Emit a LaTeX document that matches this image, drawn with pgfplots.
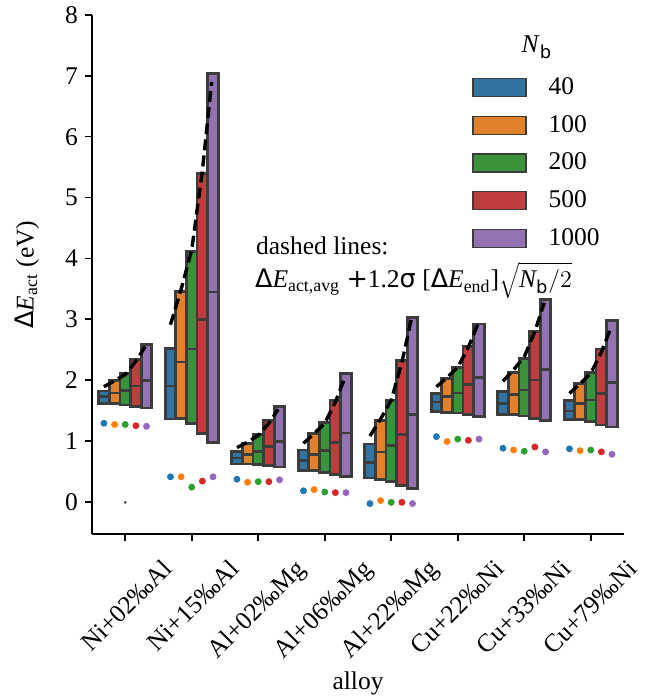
\documentclass[border=0pt]{standalone}
\usepackage{fontspec}
\setmainfont{Liberation Serif}
\setsansfont{DejaVu Sans}
\usepackage{pgfplots}
\pgfplotsset{compat=1.18}
\usepgfplotslibrary{statistics}

\definecolor{b0}{HTML}{3274A1}
\definecolor{b1}{HTML}{E1812C}
\definecolor{b2}{HTML}{3A923A}
\definecolor{b3}{HTML}{C03D3E}
\definecolor{b4}{HTML}{9372B2}
\definecolor{t0}{HTML}{1F77B4}
\definecolor{t1}{HTML}{FF7F0E}
\definecolor{t2}{HTML}{2CA02C}
\definecolor{t3}{HTML}{D62728}
\definecolor{t4}{HTML}{9467BD}
\definecolor{edge}{HTML}{3C3C3C}

% position, low, median, high, colour
\newcommand{\bx}[5]{%
  \addplot[forget plot, boxplot prepared={draw direction=y, draw position=#1, lower whisker=#2, lower quartile=#2,
    median=#3, upper quartile=#4, upper whisker=#4, box extend=0.16, whisker extend=0,
    every box/.style={draw=edge, fill=#5, line width=1.4pt},
    every median/.style={draw=edge, line width=1.3pt},
    every whisker/.style={draw=edge, line width=1.4pt}},
    fill=#5, draw=edge, line width=1.4pt] coordinates {};}

\begin{document}
\begin{tikzpicture}[font=\fontsize{12.75pt}{15pt}\selectfont]
\useasboundingbox (-46pt,-83pt) rectangle (282pt,267pt);
\begin{axis}[
  at={(0,0)}, anchor=south west, scale only axis,
  width=266pt, height=259.5pt,
  xmin=-0.5, xmax=7.5, ymin=-0.53, ymax=8,
  axis lines=left, axis line style={-, line width=1pt},
  clip=false,
  xtick={0,1,2,3,4,5,6,7},
  xticklabels={Ni+02‰Al, Ni+15‰Al, Al+02‰Mg, Al+06‰Mg, Al+22‰Mg, Cu+22‰Ni, Cu+33‰Ni, Cu+79‰Ni},
  ytick={0,1,2,3,4,5,6,7,8},
  tick align=outside, major tick length=3.5pt,
  tick style={black, line width=0.8pt},
  /pgf/number format/assume math mode=true,
  xticklabel style={anchor=north east, xshift=18pt, yshift=-3.5pt, rotate=45},
  every axis y label/.style={at={(axis description cs:-0.1222,0.5)}, rotate=90, anchor=center},
  every axis x label/.style={at={(axis description cs:0.5,-0.288)}, anchor=center},
  ylabel={{\sffamily Δ}\textit{E}\textsubscript{act} (eV)},
  xlabel={alloy},
  legend style={at={(axis cs:5.214,6.98)}, anchor=north west, draw=none, fill=none,
    inner sep=0pt, row sep=8.9pt, column sep=0pt, nodes={inner sep=0pt},
    /tikz/every odd column/.append style={column sep=11pt}},
  legend cell align=left,
  legend image code/.code={\draw[#1, line width=0.6pt] (0pt,-4.5pt) rectangle (26.5pt,4.5pt);},
]
% Ni+02Al
\bx{-0.32}{1.62}{1.73}{1.82}{b0}
\bx{-0.16}{1.61}{1.79}{1.99}{b1}
\bx{0}{1.59}{1.83}{2.11}{b2}
\bx{0.16}{1.57}{1.90}{2.34}{b3}
\bx{0.32}{1.54}{1.99}{2.59}{b4}
% Ni+15Al
\bx{0.68}{1.36}{1.90}{2.52}{b0}
\bx{0.84}{1.37}{2.30}{3.45}{b1}
\bx{1}{1.28}{2.51}{4.11}{b2}
\bx{1.16}{1.12}{3.00}{5.40}{b3}
\bx{1.32}{0.97}{3.45}{7.04}{b4}
% Al+02Mg
\bx{1.68}{0.62}{0.72}{0.82}{b0}
\bx{1.84}{0.62}{0.78}{0.96}{b1}
\bx{2}{0.61}{0.83}{1.10}{b2}
\bx{2.16}{0.59}{0.91}{1.33}{b3}
\bx{2.32}{0.57}{0.99}{1.57}{b4}
% Al+06Mg
\bx{2.68}{0.51}{0.68}{0.85}{b0}
\bx{2.84}{0.51}{0.78}{1.12}{b1}
\bx{3}{0.48}{0.84}{1.30}{b2}
\bx{3.16}{0.45}{0.97}{1.67}{b3}
\bx{3.32}{0.42}{1.13}{2.11}{b4}
% Al+22Mg
\bx{3.68}{0.39}{0.65}{0.95}{b0}
\bx{3.84}{0.37}{0.82}{1.33}{b1}
\bx{4}{0.33}{0.92}{1.67}{b2}
\bx{4.16}{0.27}{1.11}{2.32}{b3}
\bx{4.32}{0.22}{1.43}{3.03}{b4}
% Cu+22Ni
\bx{4.68}{1.48}{1.64}{1.78}{b0}
\bx{4.84}{1.47}{1.73}{2.02}{b1}
\bx{5}{1.46}{1.79}{2.21}{b2}
\bx{5.16}{1.43}{1.93}{2.55}{b3}
\bx{5.32}{1.40}{2.04}{2.92}{b4}
% Cu+33Ni
\bx{5.68}{1.44}{1.61}{1.81}{b0}
\bx{5.84}{1.43}{1.76}{2.12}{b1}
\bx{6}{1.41}{1.84}{2.36}{b2}
\bx{6.16}{1.37}{2.00}{2.80}{b3}
\bx{6.32}{1.33}{2.17}{3.33}{b4}
% Cu+79Ni
\bx{6.68}{1.35}{1.49}{1.66}{b0}
\bx{6.84}{1.35}{1.61}{1.95}{b1}
\bx{7}{1.32}{1.67}{2.12}{b2}
\bx{7.16}{1.26}{1.78}{2.51}{b3}
\bx{7.32}{1.23}{1.96}{2.98}{b4}

% dashed lines
\pgfplotsset{dashline/.style={forget plot, black, line width=1.7pt, dash pattern=on 5.5pt off 2.6pt}}
\addplot[dashline] coordinates {(-0.32,1.89) (-0.16,1.99) (0,2.09) (0.16,2.31) (0.30,2.55)};
\addplot[dashline] coordinates {(0.68,2.91) (0.84,3.49) (1,4.14) (1.16,5.44) (1.30,6.90)};
\addplot[dashline] coordinates {(1.68,0.89) (1.84,0.98) (2,1.09) (2.16,1.29) (2.30,1.52)};
\addplot[dashline] coordinates {(2.68,0.96) (2.84,1.12) (3,1.29) (3.16,1.64) (3.30,2.03)};
\addplot[dashline] coordinates {(3.68,1.08) (3.84,1.36) (4,1.67) (4.16,2.29) (4.30,2.99)};
\addplot[dashline] coordinates {(4.68,1.89) (4.84,2.04) (5,2.21) (5.16,2.54) (5.30,2.91)};
\addplot[dashline] coordinates {(5.68,1.98) (5.84,2.17) (6,2.38) (6.16,2.80) (6.30,3.27)};
\addplot[dashline] coordinates {(6.68,1.78) (6.84,1.94) (7,2.11) (7.16,2.46) (7.30,2.85)};

% dots
\pgfplotsset{dotst/.style={forget plot, only marks, mark=*, mark size=1.5pt}}
\addplot[dotst, t0, mark options={fill=t0, draw=t0}] coordinates {(-0.32,1.29) (0.68,0.41) (1.68,0.37) (2.68,0.18) (3.68,-0.03) (4.68,1.07) (5.68,0.88) (6.68,0.87)};
\addplot[dotst, t1, mark options={fill=t1, draw=t1}] coordinates {(-0.16,1.27) (0.84,0.41) (1.84,0.32) (2.84,0.20) (3.84,0.02) (4.84,0.99) (5.84,0.85) (6.84,0.84)};
\addplot[dotst, t2, mark options={fill=t2, draw=t2}] coordinates {(0,1.27) (1,0.24) (2,0.33) (3,0.16) (4,-0.01) (5,1.03) (6,0.83) (7,0.85)};
\addplot[dotst, t3, mark options={fill=t3, draw=t3}] coordinates {(0.16,1.25) (1.16,0.34) (2.16,0.33) (3.16,0.15) (4.16,-0.01) (5.16,1.01) (6.16,0.90) (7.16,0.82)};
\addplot[dotst, t4, mark options={fill=t4, draw=t4}] coordinates {(0.32,1.24) (1.32,0.41) (2.32,0.36) (3.32,0.15) (4.32,-0.03) (5.32,1.03) (6.32,0.82) (7.32,0.78)};
\addplot[forget plot, only marks, mark=*, mark size=0.5pt, black!70] coordinates {(0,-0.01)};

% legend
\addlegendimage{fill=b0, draw=edge}\addlegendentry{40}
\addlegendimage{fill=b1, draw=edge}\addlegendentry{100}
\addlegendimage{fill=b2, draw=edge}\addlegendentry{200}
\addlegendimage{fill=b3, draw=edge}\addlegendentry{500}
\addlegendimage{fill=b4, draw=edge}\addlegendentry{1000}

\node at (axis cs:6.192,7.47) {\textit{N}\textsubscript{\sffamily b}};
\node[anchor=base west] at (axis cs:1.861,4.056) {dashed lines:};
\node[anchor=base west] at (axis cs:1.846,3.514) {{\sffamily Δ}\textit{E}\textsubscript{act,avg} {\sffamily +}1.2{\sffamily σ} [{\sffamily Δ}\textit{E}\textsubscript{end}]$\sqrt{\mathstrut\textit{N}_{\mathsf{b}}/2}$};
\end{axis}
\end{tikzpicture}
\end{document}
